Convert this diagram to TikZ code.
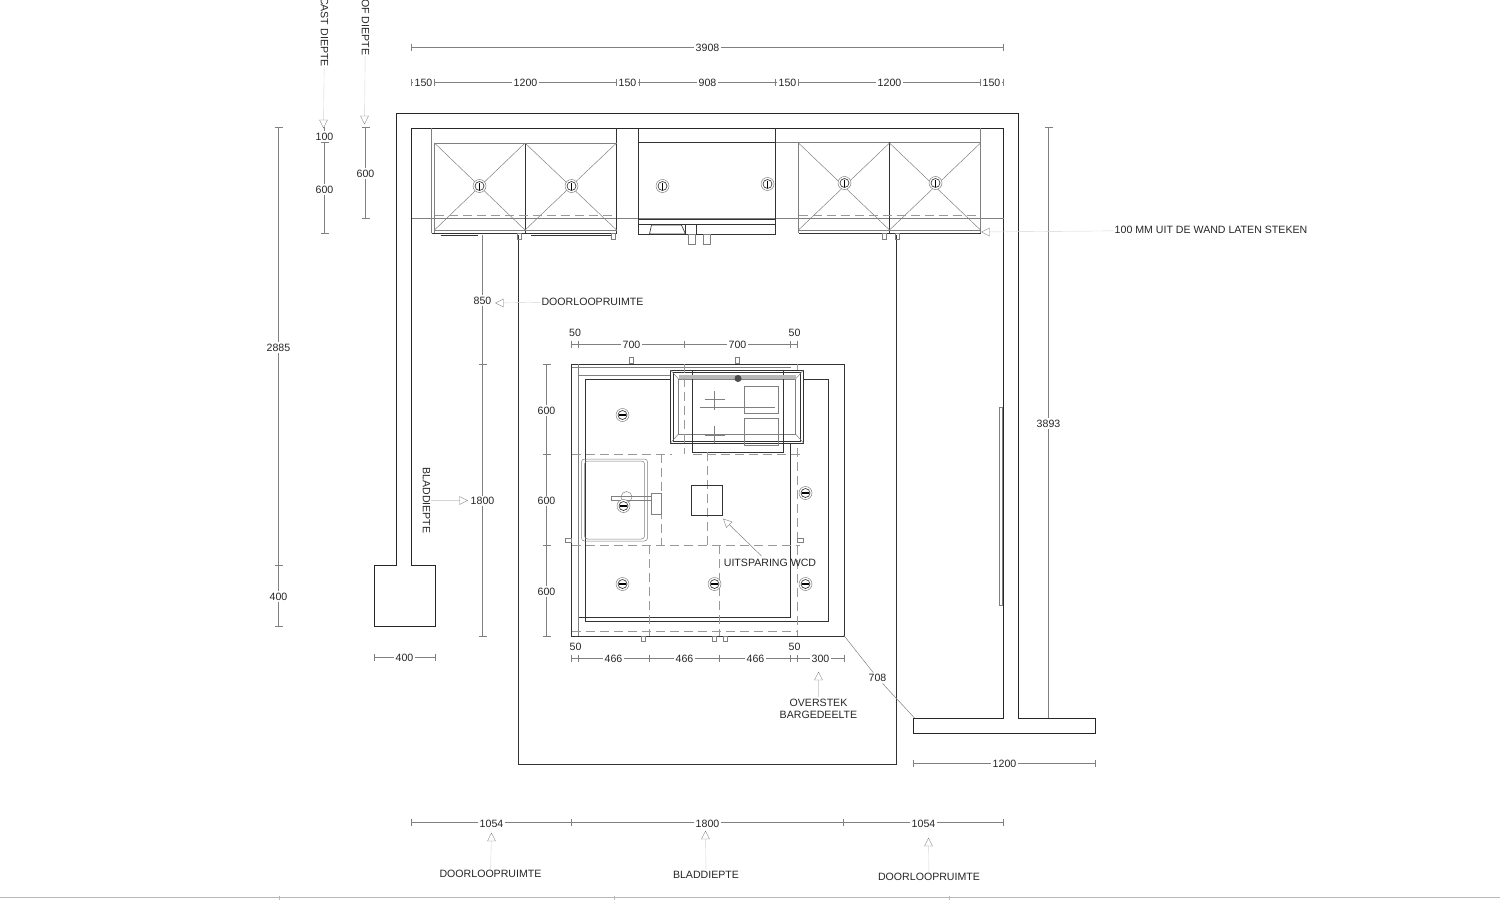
\documentclass[tikz,border=0pt]{standalone}
\usepackage{fontspec}
\setmainfont{Liberation Sans}
\usetikzlibrary{arrows,positioning}
\definecolor{dimgray}{gray}{0.5}
\definecolor{faintgray}{gray}{0.72}
\tikzset{
wall/.style={draw=black!85,line width=1pt},
unit/.style={draw=black!80,line width=0.65pt},
thinline/.style={draw=dimgray,line width=0.5pt},
hidden/.style={draw=dimgray!80,line width=0.6pt,dash pattern=on 9pt off 5pt},
dimline/.style={draw=dimgray,line width=0.5pt},
leader/.style={draw=faintgray!60,line width=0.4pt},
mark tri/.style={draw=dimgray,line width=0.4pt,fill=white},
lbl/.style={font=\fontsize{10.6}{12}\selectfont,text=black!85,inner sep=1pt},
dimlbl/.style={lbl,fill=white,inner sep=1.5pt},
}
% ticks on a horizontal or a vertical dimension line
\newcommand{\hticks}[2]{\foreach \t in {#2} \draw[dimline] (\t,#1-3.5) -- (\t,#1+3.5);}
\newcommand{\vticks}[2]{\foreach \t in {#2} \draw[dimline] (#1-4,\t) -- (#1+4,\t);}
% small triangle that points at the given place
\newcommand{\tri}[3]{\draw[mark tri,rotate around={#3:(#1,#2)}] (#1,#2) -- (#1-4,#2-8) -- (#1+4,#2-8) -- cycle;}
\begin{document}
\begin{tikzpicture}[x=1pt,y=-1pt]
\useasboundingbox (0.5,0) rectangle (1500.5,900);

% walls
\draw[wall] (397,113) -- (1019,113) -- (1019,718) -- (1096,718) -- (1096,733) -- (914,733) -- (914,718) -- (1004,718) -- (1004,128) -- (412,128) -- (412,565) -- (436,565) -- (436,626) -- (375,626) -- (375,565) -- (397,565) -- cycle;
\draw[thinline] (1000,407) rectangle (1003,605);
% floor
\draw[unit] (519,235) -- (519,764) -- (897,764) -- (897,235);

% top row of cupboards
\draw[thinline] (412,218) -- (1004,218);
\draw[thinline] (432,128) -- (432,233);
\draw[unit] (432,233) -- (617,233) -- (617,128);
\draw[unit] (525.5,143) -- (525.5,233);
\draw[thinline] (435,143) -- (617,143);
\draw[thinline] (435,143) -- (435,233);
\draw[thinline] (981,128) -- (981,233);
\draw[thinline] (776,142) -- (981,142);
\draw[thinline] (799,142) -- (799,233);
\draw[unit] (799,233) -- (981,233);
\draw[unit] (890,142) -- (890,233);
\draw[thinline] (799,230) -- (981,230);
\draw[thinline] (435,230) -- (617,230);
\foreach \a/\b in {435/525.5,525.5/617,799/890,890/981} {
  \draw[thinline] (\a,143) -- (\b,230);
  \draw[thinline] (\a,230) -- (\b,143);
}
\draw[hidden] (435,215) -- (617,215);
\draw[hidden] (799,215) -- (981,215);
\draw[unit] (639,128) -- (639,234) -- (776,234) -- (776,128);
\draw[unit] (639,142) -- (776,142);
\draw[unit] (639,219) -- (776,219);
\draw[unit] (639,224) -- (776,224);
% sink and taps below it
\draw[unit] (650,234) -- (652,225) -- (682,225) -- (686,234) -- cycle;
\draw[unit] (686,224) rectangle (697,234);
\draw[thinline] (688.5,234) rectangle (695.5,244);
\draw[thinline] (703.5,234) rectangle (710.5,244);
\draw[unit] (441,235) -- (478,235);
\draw[unit] (531,235) -- (612,235);
\foreach \x in {518,612,883,896} \draw[thinline] (\x,233) rectangle (\x+4,239);

% spots of the top row
\foreach \x/\y in {480/186,572/186,663/186,768/184,845/183,936/183} {
  \draw[dimline,fill=white] (\x,\y) circle (6.5);
  \draw[unit] (\x,\y) circle (4.5);
  \draw[black,line width=1.8pt] (\x,\y-3.5) -- (\x,\y+3.5);
}

% island
\draw[unit] (572,364) rectangle (845,636);
\draw[unit] (579,375) -- (579,617) -- (791,617) -- (791,375);
\draw[thinline] (579,375) -- (671,375);
\draw[unit] (586,379) -- (586,621) -- (829,621) -- (829,379) -- cycle;
\draw[thinline] (579,364) -- (579,636);
\draw[hidden] (798,364) -- (798,636);
\draw[hidden] (572,631) -- (798,631);
\draw[thinline] (572,367) -- (791,367);
% hob
\draw[unit,fill=white] (671,370) rectangle (804,443);
\draw[unit] (674,372.5) rectangle (801,441);
\draw[thinline] (679,379) rectangle (796,434);
\draw[thinline] (671,370) -- (679,379);
\draw[thinline] (804,370) -- (796,379);
\draw[thinline] (671,443) -- (679,434);
\draw[thinline] (804,443) -- (796,434);
\draw[unit] (693,370) -- (693,452) -- (784,452) -- (784,370);
\draw[unit] (693,370) -- (784,370);
\fill[faintgray] (679,375) rectangle (796,379);
\draw[thinline] (745,386) rectangle (779,413);
\draw[thinline] (745,418) rectangle (779,445);
\draw[thinline] (700,407) -- (775,407);
\draw[thinline] (705,399.5) -- (725,399.5);
\draw[thinline] (715,391) -- (715,410);
\draw[thinline] (705,435.5) -- (725,435.5);
\draw[thinline] (715,426) -- (715,443);
\fill[black!70] (738.5,378.5) circle (3.5);
\draw[hidden] (685,364) -- (685,454);
% hidden lines through the island
\draw[hidden] (572,454) -- (672,454);
\draw[hidden] (693,454) -- (800,454);
\draw[hidden] (572,545) -- (800,545);
\draw[hidden] (662,454) -- (662,545);
\draw[hidden] (650,545) -- (650,636);
\draw[hidden] (708,452) -- (708,545);
\draw[hidden] (720,545) -- (720,636);
% sink of the island
\draw[thinline,rounded corners=3pt] (582,459) rectangle (648,541);
\draw[thinline,rounded corners=3pt] (585,461) rectangle (645,539);
\draw[thinline] (612,496) rectangle (652,500);
\draw[thinline] (627,497) circle (5.5);
\draw[thinline] (652,493) rectangle (662,514);
% square for the socket
\draw[unit] (692,485) rectangle (723,515);
\foreach \x in {630,736} \draw[thinline] (\x,357) rectangle (\x+4,363);
\foreach \x in {642,713,724} \draw[thinline] (\x,636) rectangle (\x+4,641);
\draw[thinline] (566,538) rectangle (572,542);
\draw[thinline] (798,538) rectangle (804,542);

% spots of the island
\foreach \x/\y in {623/415,806/493,624/506,623/584,715/584,806/584} {
  \draw[dimline,fill=white] (\x,\y) circle (6.5);
  \draw[unit] (\x,\y) circle (4.5);
  \draw[black,line width=1.8pt] (\x-3.5,\y) -- (\x+3.5,\y);
}

% dimensions on top
\draw[dimline] (412,47) -- (1004,47);
\hticks{47}{412,1004}
\node[dimlbl] (total) at (708,47.5) {3908};
\draw[dimline] (412,82) -- (1004,82);
\node[dimlbl] (a1) at (424,83) {150};
\node[dimlbl] (a2) at (526,83) {1200};
\node[dimlbl] (a3) at (628,83) {150};
\node[dimlbl] (a4) at (708,83) {908};
\node[dimlbl] (a5) at (788,83) {150};
\node[dimlbl] (a6) at (890,83) {1200};
\node[dimlbl] (a7) at (992,83) {150};
\hticks{82}{412,435,617,640,776,799,981,1004}

% dimensions on the left
\draw[dimline] (279,127) -- (279,626);
\vticks{279}{127,565,626}
\node[dimlbl] (h1) at (279,347.5) {2885};
\node[dimlbl] (h2) at (279,596.5) {400};
\draw[dimline] (325,127) -- (325,233);
\vticks{325}{142,233}
\node[dimlbl] (h3) at (325,136.5) {100};
\node[dimlbl] (h4) at (325,189.5) {600};
\draw[dimline] (366,127) -- (366,218);
\vticks{366}{127,218}
\node[dimlbl] (h5) at (366,173.5) {600};
\draw[dimline] (375,657) -- (436,657);
\hticks{657}{375,436}
\node[dimlbl] (w1) at (405,658) {400};
\draw[dimline] (483,235) -- (483,636);
\vticks{483}{364,636}
\node[dimlbl] (h6) at (483,300.5) {850};
\node[dimlbl] (h7) at (483,501) {1800};
\draw[dimline] (547,364) -- (547,636);
\vticks{547}{364,454,545,636}
\node[dimlbl] (h8) at (547,410.5) {600};
\node[dimlbl] (h9) at (547,501) {600};
\node[dimlbl] (h10) at (547,591.5) {600};

% dimensions on the right
\draw[dimline] (1049,127) -- (1049,718);
\vticks{1049}{127}
\node[dimlbl] (h11) at (1049,423.5) {3893};
\draw[dimline] (914,763) -- (1096,763);
\hticks{763}{914,1096}
\node[dimlbl] (w2) at (1005,764) {1200};

% dimensions of the island
\draw[dimline] (572,344) -- (798,344);
\hticks{344}{572,579,685,791,798}
\node[lbl] (b1) at (575.5,332.5) {50};
\node[dimlbl] (b2) at (632,345) {700};
\node[dimlbl] (b3) at (738,345) {700};
\node[lbl] (b4) at (795,332.5) {50};
\draw[dimline] (572,658) -- (845,658);
\hticks{658}{572,579,650,720,791,798,845}
\node[lbl] (c1) at (576,646.5) {50};
\node[dimlbl] (c2) at (614,659) {466};
\node[dimlbl] (c3) at (685,659) {466};
\node[dimlbl] (c4) at (756,659) {466};
\node[lbl] (c5) at (795,646.5) {50};
\node[dimlbl] (c6) at (821,659) {300};
\coordinate (cnr1) at (844,635);
\coordinate (cnr2) at (915,718);
\node[dimlbl] (diag) at (878,678) {708};
\draw[dimline] (cnr1) -- (diag) -- (cnr2);

% dimensions below
\draw[dimline] (412,822) -- (1004,822);
\hticks{822}{412,572,844,1004}
\node[dimlbl] (d1) at (492,823.5) {1054};
\node[dimlbl] (d2) at (708,823.5) {1800};
\node[dimlbl] (d3) at (924,823.5) {1054};

% bottom edge of the sheet
\draw[leader,draw=faintgray] (0,897.5) -- (1501,897.5);
\foreach \x in {280,615,950} \draw[leader,draw=faintgray] (\x,896) -- (\x,900);

% notes and their leaders
\node[lbl,rotate=-90,anchor=west] (castnote) at (325,-4) {CAST DIEPTE};
\coordinate (casttip) at (324,128);
\draw[leader] (castnote) -- (casttip);
\tri{324}{128}{0}
\node[lbl,rotate=-90,anchor=west] (ofnote) at (366,-2) {OF DIEPTE};
\coordinate (oftip) at (365,124);
\draw[leader] (ofnote) -- (oftip);
\tri{365}{124}{0}
\node[lbl] (wandnote) at (1211.5,230) {100 MM UIT DE WAND LATEN STEKEN};
\coordinate (wandtip) at (982,232);
\draw[leader] (wandnote) -- (wandtip);
\tri{982}{232}{-90}
\node[lbl] (doornote) at (593,301.5) {DOORLOOPRUIMTE};
\coordinate (doortip) at (496,303);
\draw[leader] (doornote) -- (doortip);
\tri{496}{303}{-90}
\node[lbl,rotate=-90] (bladnote) at (427,500.5) {BLADDIEPTE};
\coordinate (bladtip) at (468,500.5);
\draw[leader] (bladnote) -- (bladtip);
\tri{468}{500.5}{90}
\node[lbl] (wcdnote) at (770.5,562.5) {UITSPARING WCD};
\coordinate (wcdtip) at (724,519);
\draw[dimline] (wcdtip) -- (762,556);
\tri{724}{519}{-135}
\node[lbl,align=center,font=\fontsize{10.6}{12.3}\selectfont] (overnote) at (819,708.5) {OVERSTEK\\BARGEDEELTE};
\coordinate (overtip) at (819,672);
\draw[leader] (overnote) -- (overtip);
\tri{819}{672}{180}
\node[lbl] (e1) at (491,873.5) {DOORLOOPRUIMTE};
\coordinate (e1tip) at (492,833);
\draw[leader] (e1) -- (e1tip);
\tri{492}{833}{180}
\node[lbl] (e2) at (706.5,874.5) {BLADDIEPTE};
\coordinate (e2tip) at (706,831);
\draw[leader] (e2) -- (e2tip);
\tri{706}{831}{180}
\node[lbl] (e3) at (929.5,876.5) {DOORLOOPRUIMTE};
\coordinate (e3tip) at (929,838);
\draw[leader] (e3) -- (e3tip);
\tri{929}{838}{180}
\end{tikzpicture}
\end{document}
